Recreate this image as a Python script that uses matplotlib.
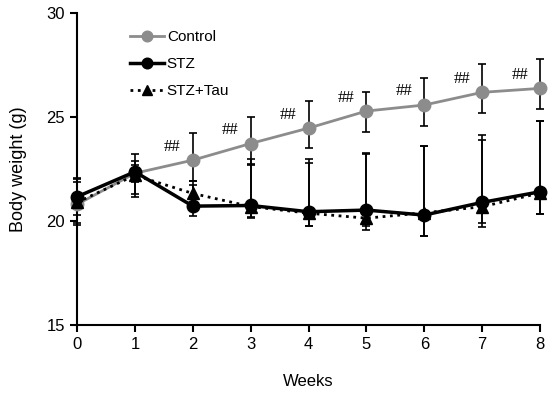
import numpy as np
import matplotlib
matplotlib.use('Agg')
import matplotlib.pyplot as plt

plt.rcParams['font.family'] = ['Liberation Sans', 'DejaVu Sans']

weeks = [0, 1, 2, 3, 4, 5, 6, 7, 8]

control = [20.8, 22.3, 22.93, 23.73, 24.47, 25.29, 25.58, 26.19, 26.38]
control_up = [1.2, 0.4, 1.31, 1.27, 1.31, 0.91, 1.28, 1.36, 1.39]
control_lo = [0.9, 0.4, 1.0, 1.0, 0.97, 1.02, 1.0, 1.0, 1.0]

stz = [21.17, 22.37, 20.72, 20.75, 20.45, 20.53, 20.29, 20.9, 21.41]
stz_up = [0.9, 0.85, 1.0, 2.25, 2.53, 2.75, 3.33, 3.26, 3.4]
stz_lo = [0.9, 1.2, 0.46, 0.58, 0.67, 0.76, 1.0, 1.2, 1.07]

tau = [20.9, 22.2, 21.33, 20.7, 20.38, 20.14, 20.4, 20.69, 21.35]
tau_up = [1.0, 0.7, 0.6, 2.0, 2.4, 3.1, 3.2, 3.23, 3.45]
tau_lo = [1.1, 0.9, 0.5, 0.5, 0.6, 0.57, 1.1, 0.8, 1.0]

sig_weeks = [2, 3, 4, 5, 6, 7, 8]
sig_label = '##'

fig = plt.figure(figsize=(5.5, 3.96), dpi=100)
ax = fig.add_axes([0.14, 0.179, 0.842, 0.788])

err_kw = dict(ecolor='black', elinewidth=1.2, capsize=3, capthick=1.2, clip_on=False)

ax.errorbar(weeks, control, yerr=[control_lo, control_up], fmt='none', **err_kw)
ax.errorbar(weeks, stz, yerr=[stz_lo, stz_up], fmt='none', **err_kw)
ax.errorbar(weeks, tau, yerr=[tau_lo, tau_up], fmt='none', **err_kw)

ax.plot(weeks, control, color='#8c8c8c', lw=2, marker='o', ms=9,
        label='Control', clip_on=False, zorder=3)
ax.plot(weeks, stz, color='black', lw=2.5, marker='o', ms=9,
        label='STZ', clip_on=False, zorder=4)
ax.plot(weeks, tau, color='black', lw=2, ls=':', marker='^', ms=9,
        label='STZ+Tau', clip_on=False, zorder=5)

for w in sig_weeks:
    ax.text(w - 0.35, control[w] + 0.65, sig_label, ha='center', va='center',
            fontsize=12, family=['Liberation Serif', 'DejaVu Serif'])

ax.set_xlim(0, 8)
ax.set_ylim(15, 30)
ax.set_xticks(weeks)
ax.set_yticks([15, 20, 25, 30])
ax.spines['top'].set_visible(False)
ax.spines['right'].set_visible(False)
ax.spines['left'].set_linewidth(1.5)
ax.spines['bottom'].set_linewidth(1.5)
ax.tick_params(direction='out', length=5, width=1.5, labelsize=12)
ax.set_xlabel('Weeks', fontsize=12, labelpad=16)
ax.set_ylabel('Body weight (g)', fontsize=13, labelpad=14)

ax.legend(loc='upper left', bbox_to_anchor=(0.085, 0.99), frameon=False,
          fontsize=11, handlelength=2.2, handletextpad=0.2, labelspacing=0.85,
          markerscale=0.85)

fig.savefig('out.png', dpi=100)
